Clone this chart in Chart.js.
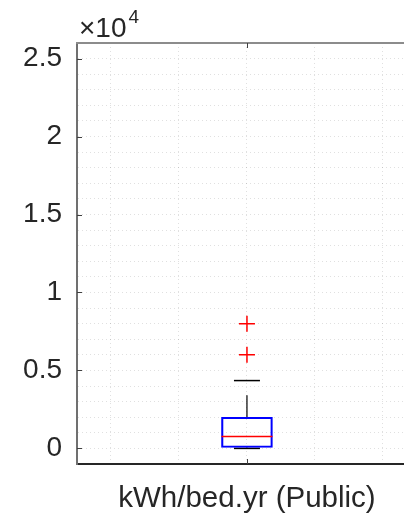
<!DOCTYPE html>
<html>
<head>
<meta charset="utf-8">
<script src="https://cdn.jsdelivr.net/npm/chart.js@4"></script>
<style>
  body { margin: 0; background: #fff; }
  canvas { display: block; }
</style>
</head>
<body>
<canvas id="myChart" width="404" height="519"></canvas>
<script>
// box plot values
const categories = ["kWh/bed.yr (Public)"];
const categoryPos = [1];
const lowerWhisker = [0];
const q1 = [60];
const median = [770];
const q3 = [2000];
const upperWhisker = [4350];
const outliers = [6000, 8000];

const yTickValues = [0, 5000, 10000, 15000, 20000, 25000];
const yTickLabels = ["0", "0.5", "1", "1.5", "2", "2.5"];
const yMinorStep = 1000;
const yMin = -1000;
const yMax = 26000;
const xGridValues = [0.6, 0.8, 1.0, 1.2, 1.4];
const xMin = 0.5;
const xMax = 1.462;

const FONT = '"Liberation Sans", Arial, sans-serif';
const ctx = document.getElementById("myChart");

const axisExtras = {
  id: "axisExtras",
  afterDraw(chart) {
    const { ctx, chartArea, scales } = chart;
    ctx.save();
    // top edge of the axes box
    ctx.strokeStyle = "#8c8c8c";
    ctx.lineWidth = 2;
    ctx.beginPath();
    ctx.moveTo(chartArea.left - 1, chartArea.top);
    ctx.lineTo(chartArea.right, chartArea.top);
    ctx.stroke();

    // inward tick marks
    ctx.strokeStyle = "#404040";
    ctx.lineWidth = 1;
    ctx.beginPath();
    yTickValues.forEach((v) => {
      const y = Math.round(scales.y.getPixelForValue(v)) + 0.5;
      ctx.moveTo(chartArea.left, y);
      ctx.lineTo(chartArea.left + 5, y);
    });
    categoryPos.forEach((v) => {
      const x = Math.round(scales.x.getPixelForValue(v)) + 0.5;
      ctx.moveTo(x, chartArea.bottom);
      ctx.lineTo(x, chartArea.bottom - 5);
      ctx.moveTo(x, chartArea.top);
      ctx.lineTo(x, chartArea.top + 5);
    });
    ctx.stroke();

    // exponent label
    ctx.fillStyle = "#262626";
    ctx.textBaseline = "alphabetic";
    ctx.textAlign = "left";
    ctx.font = "28px " + FONT;
    ctx.fillText("\u00d710", 79, 37);
    const w = ctx.measureText("\u00d710").width;
    ctx.font = "19px " + FONT;
    ctx.fillText("4", 79 + w + 2, 23);
    ctx.restore();
  },
};

const yGrid = [];
for (let v = 0; v <= yMax; v += yMinorStep) yGrid.push(v);

new Chart(ctx, {
  type: "bar",
  data: {
    datasets: [
      {
        type: "scatter",
        label: "Outliers",
        data: outliers.map((v) => ({ x: categoryPos[0], y: v })),
        pointStyle: "cross",
        pointRadius: 8,
        borderColor: "#ff0000",
        borderWidth: 1.5,
      },
      {
        type: "scatter",
        label: "Median",
        data: median.map((v, i) => ({ x: categoryPos[i], y: v })),
        pointStyle: "line",
        pointRadius: 25.5,
        borderColor: "#ff0000",
        borderWidth: 1.5,
      },
      {
        type: "bar",
        label: "Box",
        data: q1.map((v, i) => ({ x: categoryPos[i], y: [v, q3[i]] })),
        backgroundColor: "rgba(0,0,0,0)",
        borderColor: "#0000ff",
        borderWidth: 1.5,
        borderSkipped: false,
        barThickness: 51,
      },
      {
        type: "scatter",
        label: "Caps",
        data: categoryPos.flatMap((x, i) => [
          { x: x, y: upperWhisker[i] },
          { x: x, y: lowerWhisker[i] },
        ]),
        pointStyle: "line",
        pointRadius: 13,
        borderColor: "#000000",
        borderWidth: 1.5,
      },
      {
        type: "line",
        label: "Upper whisker",
        data: categoryPos.flatMap((x, i) => [
          { x: x, y: q3[i] },
          { x: x, y: upperWhisker[i] },
        ]),
        borderColor: "#000000",
        borderWidth: 1.2,
        borderDash: [22, 15],
        pointRadius: 0,
      },
      {
        type: "line",
        label: "Lower whisker",
        data: categoryPos.flatMap((x, i) => [
          { x: x, y: q1[i] },
          { x: x, y: lowerWhisker[i] },
        ]),
        borderColor: "#000000",
        borderWidth: 1.2,
        pointRadius: 0,
      },
    ],
  },
  options: {
    responsive: false,
    animation: false,
    layout: { autoPadding: false, padding: { top: 43, left: 0, right: 0, bottom: 0 } },
    plugins: { legend: { display: false }, tooltip: { enabled: false } },
    scales: {
      x: {
        type: "linear",
        offset: false,
        min: xMin,
        max: xMax,
        afterBuildTicks: (scale) => {
          scale.ticks = xGridValues.map((v) => ({ value: v }));
        },
        afterFit: (scale) => {
          scale.height = 55;
        },
        ticks: {
          autoSkip: false,
          maxRotation: 0,
          padding: 0,
          color: "#262626",
          font: { family: FONT, size: 29.5 },
          callback: (value) => {
            const i = categoryPos.indexOf(value);
            return i >= 0 ? categories[i] : "";
          },
        },
        grid: {
          offset: false,
          color: "rgba(0,0,0,0.12)",
          drawTicks: true,
          tickLength: 17,
          tickColor: "rgba(0,0,0,0)",
        },
        border: { color: "#262626", width: 2, dash: [1, 3] },
      },
      y: {
        type: "linear",
        min: yMin,
        max: yMax,
        afterBuildTicks: (scale) => {
          scale.ticks = yGrid.map((v) => ({ value: v }));
        },
        afterFit: (scale) => {
          scale.width = 77;
        },
        ticks: {
          autoSkip: false,
          padding: 0,
          color: "#262626",
          font: { family: FONT, size: 28 },
          callback: (value) => {
            const i = yTickValues.indexOf(value);
            return i >= 0 ? yTickLabels[i] : "";
          },
        },
        grid: {
          color: "rgba(0,0,0,0.12)",
          drawTicks: true,
          tickLength: 15,
          tickColor: "rgba(0,0,0,0)",
        },
        border: { color: "#707070", width: 2, dash: [1, 3] },
      },
    },
  },
  plugins: [axisExtras],
});
</script>
</body>
</html>
